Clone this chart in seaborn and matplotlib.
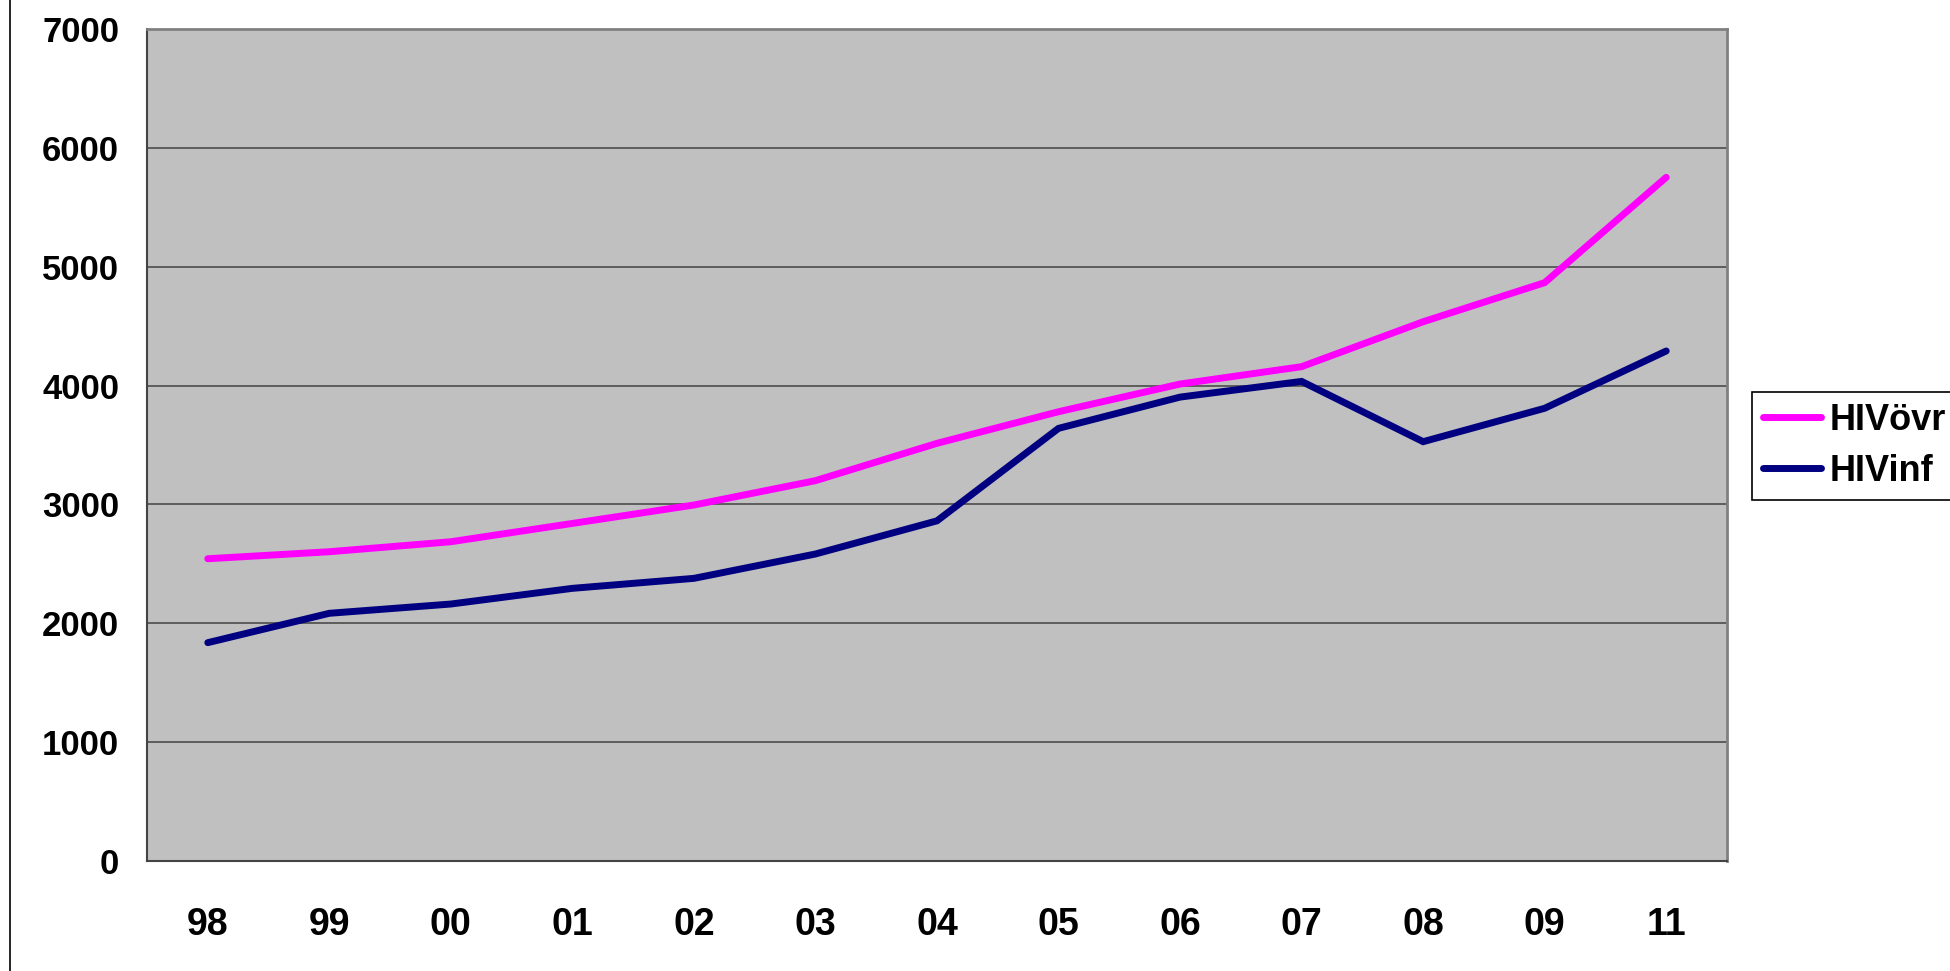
import pandas as pd
import matplotlib.pyplot as plt
import seaborn as sns
from matplotlib.lines import Line2D

years = ["98", "99", "00", "01", "02", "03", "04", "05", "06", "07", "08", "09", "11"]
hiv_ovr = [2543, 2602, 2686, 2840, 2995, 3200, 3514, 3780, 4013, 4159, 4537, 4866, 5752]
hiv_inf = [1837, 2084, 2162, 2294, 2378, 2583, 2862, 3640, 3903, 4035, 3528, 3809, 4291]
series = ["HIVövr", "HIVinf"]
colors = ["#FF00FF", "#000080"]

df = pd.DataFrame({
    "year": years * 2,
    "value": hiv_ovr + hiv_inf,
    "serie": [series[0]] * len(years) + [series[1]] * len(years),
})

sns.set_style("white")
plt.rcParams["font.family"] = ["Liberation Sans", "DejaVu Sans"]
plt.rcParams["font.weight"] = "bold"
for key in ["text.color", "axes.labelcolor", "xtick.color", "ytick.color"]:
    plt.rcParams[key] = "black"

fig = plt.figure(figsize=(19.5, 9.71), dpi=100)
ax = fig.add_axes([147 / 1950, 1 - 861 / 971, 1580 / 1950, 832 / 971])
ax.set_facecolor("#C0C0C0")

# two series, lines only
sns.lineplot(data=df, x="year", y="value", hue="serie", palette=colors,
             linewidth=5, sort=False, ax=ax, legend=False,
             solid_capstyle="round", solid_joinstyle="miter")

ax.set_xlim(-0.5, len(years) - 0.5)
ax.set_ylim(0, 7000)
ax.set_yticks(range(0, 7001, 1000))
ax.set_xticks(range(len(years)))
ax.set_xticklabels(years)
ax.set_xticks([i - 0.5 for i in range(len(years) + 1)], minor=True)
ax.tick_params(axis="x", which="major", length=0, pad=33, labelsize=27)
ax.tick_params(axis="x", which="minor", length=9.5, width=1, color="black", direction="out")
ax.tick_params(axis="y", length=8, width=1, color="black", direction="out", pad=12, labelsize=25)
for lab in ax.get_xticklabels() + ax.get_yticklabels():
    lab.set_fontweight("bold")
    lab.set_color("black")

ax.grid(axis="y", color="#555555", linewidth=1.3)
ax.set_axisbelow(True)
ax.set_xlabel("")
ax.set_ylabel("")
for side in ["left", "bottom"]:
    ax.spines[side].set_color("#444444")
    ax.spines[side].set_linewidth(1.5)
for side in ["top", "right"]:
    ax.spines[side].set_color("#808080")
    ax.spines[side].set_linewidth(2)

handles = [Line2D([], [], color=c, linewidth=5, solid_capstyle="round") for c in colors]
leg = fig.legend(handles, series, loc="upper left",
                 bbox_to_anchor=(1752 / 1950, 1 - 392 / 971), borderaxespad=0,
                 frameon=True, fancybox=False, edgecolor="black", framealpha=1,
                 prop={"size": 26, "weight": "bold"}, handlelength=1.6,
                 handletextpad=0.25, labelspacing=0.45, borderpad=0.3)
leg.get_frame().set_linewidth(1.2)
for t in leg.get_texts():
    t.set_color("black")

# thin border line on the left edge of the image
fig.add_artist(Line2D([10 / 1950, 10 / 1950], [0, 1], color="black", linewidth=1.2,
                      transform=fig.transFigure))

fig.savefig("out.png", dpi=100)
